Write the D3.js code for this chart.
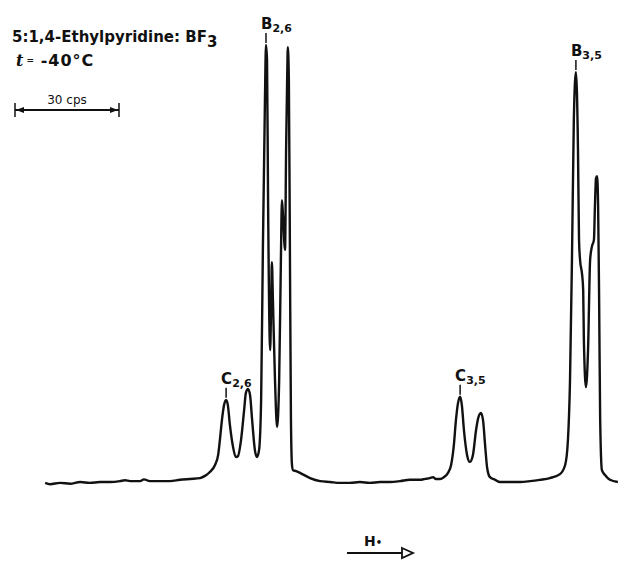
<!DOCTYPE html>
<html><head><meta charset="utf-8">
<script src="https://cdn.jsdelivr.net/npm/d3@7"></script>
<style>body{margin:0;background:#fff}svg{display:block}text{font-family:"DejaVu Sans",sans-serif;fill:#111}</style>
</head><body>
<svg id="c" width="618" height="561"></svg>
<script>
// Frequency offset (cps) of trace points and relative intensity (tallest = 100)
const shiftCps = [8.7,10.1,13.0,15.9,18.8,21.6,24.5,27.4,30.3,31.7,33.2,36.1,37.2,38.9,41.8,44.7,47.6,50.5,53.4,54.8,56.2,57.7,58.6,59.1,59.7,60.3,60.9,61.4,62.0,62.9,63.7,64.3,65.2,66.1,66.6,67.2,67.8,68.4,69.2,69.8,70.4,71.0,71.5,72.1,72.4,72.7,73.0,73.6,73.9,74.1,74.4,75.0,75.6,76.2,76.7,77.0,77.3,77.9,78.2,78.5,78.7,79.0,79.3,79.6,79.9,80.2,81.1,82.2,85.1,88.0,90.9,93.7,96.6,99.5,102.4,105.3,108.2,111.1,113.9,116.8,118.3,119.7,120.6,121.4,122.6,123.7,124.9,125.8,126.6,127.2,127.8,128.4,128.9,129.5,130.4,131.2,132.1,133.0,133.6,134.4,135.0,135.6,136.2,137.0,138.5,139.9,142.8,145.7,148.6,151.4,154.3,157.2,158.7,159.5,160.1,160.7,161.2,161.8,162.4,162.7,163.0,163.6,163.9,164.1,164.7,165.3,165.9,166.4,167.0,167.3,167.6,167.9,168.2,168.5,168.8,169.3,170.2,171.6,173.9];
const intensity = [-0.2,-0.5,-0.2,-0.4,0,-0.2,0,0,0.2,0.4,0.2,0.2,0.6,0.2,0.2,0.2,0.5,0.7,0.9,1.4,2.3,3.9,6.2,9.6,14.2,17.6,18.8,17.6,13.0,8.0,5.7,5.9,9.6,16.5,20.4,21.3,19.9,14.2,7.3,5.7,7.3,18.8,53.1,87.4,100,96.6,64.5,30.2,41.6,50.3,41.6,23.3,12.6,23.3,50.8,64.5,61.1,53.1,76.0,91.8,99.5,91.8,53.1,14.2,3.9,2.7,2.5,2.1,0.9,0.2,0,-0.2,-0.2,0,-0.2,0,0,0.2,0.5,0.5,0.7,0.9,1.1,0.7,0.7,1.1,2.1,3.9,8.5,14.2,18.1,19.5,17.6,11.9,6.2,4.6,6.2,11.9,14.6,15.8,14.2,8.5,3.2,1.1,0.5,0,0,0,0.2,0.5,0.9,1.8,3.9,9.6,23.3,53.1,82.8,93.8,76.0,55.4,50.8,47.4,43.9,32.5,21.7,30.2,50.8,53.8,55.4,63.5,69.5,70.0,63.5,41.6,14.2,2.7,1.6,0.5,0];
// Peak labels
const peakNames = ["C", "B", "C", "B"];
const peakSubs = ["2,6", "2,6", "3,5", "3,5"];
const peakCps = [60.9, 72.4, 128.4, 161.8];
const peakInt = [18.8, 100, 19.5, 93.8];
const scaleBarCps = 30;
const titleText = "5:1,4-Ethylpyridine: BF";
const tempText = "-40°C";

const svg = d3.select("#c");
const x = d3.scaleLinear().domain([0, 174]).range([15, 618.2]);
const y = d3.scaleLinear().domain([0, 100]).range([482, 45]);

const pts = shiftCps.map((c, i) => [c, intensity[i]]);
svg.append("path").datum(pts)
  .attr("d", d3.line().x(d => x(d[0])).y(d => y(d[1])).curve(d3.curveMonotoneX))
  .attr("fill", "none").attr("stroke", "#111").attr("stroke-width", 2.4)
  .attr("stroke-linejoin", "round");

// peak labels
peakNames.forEach((n, i) => {
  const px = x(peakCps[i]), py = y(peakInt[i]);
  const t = svg.append("text").attr("x", px - 5).attr("y", py - 16)
    .attr("font-size", 15).attr("font-weight", "bold");
  t.append("tspan").text(n);
  t.append("tspan").attr("font-size", 11).attr("dy", 3).text(peakSubs[i]);
  svg.append("line").attr("x1", px).attr("x2", px).attr("y1", py - 12).attr("y2", py - 2)
    .attr("stroke", "#111").attr("stroke-width", 1.5);
});

// title
const tt = svg.append("text").attr("x", 12).attr("y", 42).attr("font-size", 15).attr("font-weight", "bold");
tt.append("tspan").text(titleText);
tt.append("tspan").attr("dy", 5).text("3");
const t2 = svg.append("text").attr("x", 16).attr("y", 66).attr("font-size", 16).attr("font-weight", "bold");
t2.append("tspan").attr("font-style", "italic").attr("font-family", "DejaVu Serif").text("t");
t2.append("tspan").attr("font-size", 9).attr("dy", -3).text(" =");
t2.append("tspan").attr("dy", 3).attr("letter-spacing", 1).text(" " + tempText);

// scale bar
const sb0 = x(0), sb1 = x(scaleBarCps), sby = 110;
svg.append("line").attr("x1", sb0).attr("x2", sb1).attr("y1", sby).attr("y2", sby).attr("stroke", "#111").attr("stroke-width", 2);
[sb0, sb1].forEach(v => svg.append("line").attr("x1", v).attr("x2", v).attr("y1", sby - 7).attr("y2", sby + 7).attr("stroke", "#111").attr("stroke-width", 1.5));
svg.append("path").attr("d", `M${sb0+1},${sby} l8,-3 l0,6 z M${sb1-1},${sby} l-8,-3 l0,6 z`).attr("fill", "#111");
svg.append("text").attr("x", (sb0 + sb1) / 2).attr("y", 104).attr("text-anchor", "middle").attr("font-size", 12).text("30 cps");

// field arrow
svg.append("line").attr("x1", 347).attr("x2", 402).attr("y1", 553).attr("y2", 553).attr("stroke", "#111").attr("stroke-width", 2);
svg.append("path").attr("d", "M402,548 L413,553 L402,558 Z").attr("fill", "#fff").attr("stroke", "#111").attr("stroke-width", 1.8);
const h = svg.append("text").attr("x", 364).attr("y", 546).attr("font-size", 14).attr("font-weight", "bold");
h.append("tspan").text("H");
h.append("tspan").attr("font-size", 10).text("•");
</script>
</body></html>
